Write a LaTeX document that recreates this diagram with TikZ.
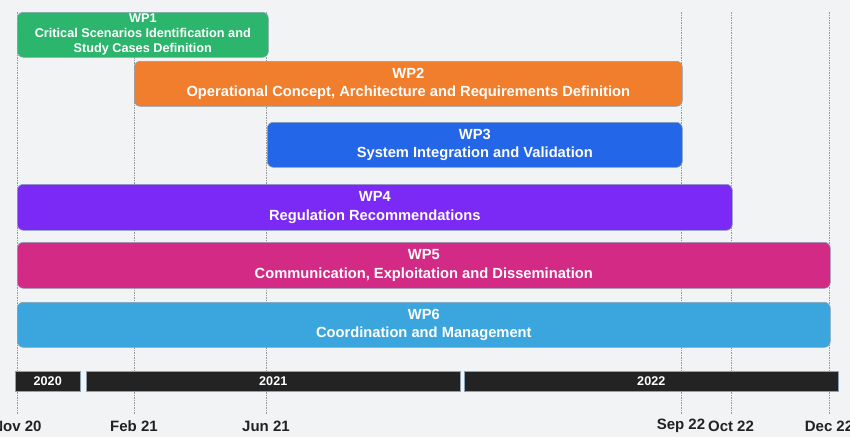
\documentclass[tikz,border=0pt]{standalone}
\usepackage{fontspec}
\setmainfont{Liberation Sans}
\definecolor{bgc}{HTML}{F2F3F5}
\definecolor{cwpa}{HTML}{2CB56C}
\definecolor{cwpb}{HTML}{F07E2C}
\definecolor{cwpc}{HTML}{2366E8}
\definecolor{cwpd}{HTML}{7B2AF6}
\definecolor{cwpe}{HTML}{D22A85}
\definecolor{cwpf}{HTML}{3BA6DD}
\definecolor{barc}{HTML}{232323}
\definecolor{edgec}{HTML}{8AA2B4}
\definecolor{gridc}{HTML}{9A9A9A}
\definecolor{datec}{HTML}{222222}
\tikzset{
  wpbox/.style={draw=edgec, line width=0.6pt, rounded corners=6pt, inner sep=0pt, anchor=north west,
    text=white, align=center, font=\bfseries\fontsize{14.7}{18.5}\selectfont},
  yearbar/.style={draw=edgec, line width=0.5pt, fill=barc, inner sep=0pt, anchor=north west,
    minimum height=20pt, text=white, font=\bfseries\fontsize{12.6}{14}\selectfont},
  datelbl/.style={text=datec, font=\bfseries\fontsize{15}{17}\selectfont, inner sep=0pt},
  gridline/.style={draw=gridc, line width=0.5pt, dash pattern=on 1.5pt off 1pt}
}
\begin{document}
\begin{tikzpicture}[x=1pt,y=-1pt]
\useasboundingbox (0,0) rectangle (850,437);
\fill[bgc] (0,0) rectangle (850,437);
% date labels and grid lines
\node[datelbl] (dnov) at (17,426) {Nov 20};
\node[datelbl] (dfeb) at (134,426) {Feb 21};
\node[datelbl] (djun) at (266,426) {Jun 21};
\node[datelbl] (dsep) at (681,426) {Sep 22};
\node[datelbl] (doct) at (731,426) {Oct 22};
\node[datelbl] (ddec) at (829,426) {Dec 22};
\coordinate (tnov) at (17,12);
\coordinate (tfeb) at (134,12);
\coordinate (tjun) at (266,12);
\coordinate (tsep) at (681,12);
\coordinate (toct) at (731,12);
\coordinate (tdec) at (829,12);
\draw[gridline] (tnov) -- (17,414);
\draw[gridline] (tfeb) -- (134,414);
\draw[gridline] (tjun) -- (266,414);
\draw[gridline] (tsep) -- (681,414);
\draw[gridline] (toct) -- (731,414);
\draw[gridline] (tdec) -- (829,414);
% work packages
\node[wpbox, fill=cwpa, minimum width=251pt, minimum height=45pt, font=\bfseries\fontsize{12.7}{15}\selectfont] (wp1) at (17,12) {WP1\\Critical Scenarios Identification and\\Study Cases Definition};
\node[wpbox, fill=cwpb, minimum width=548pt, minimum height=45pt] (wp2) at (134,61) {WP2\\Operational Concept, Architecture and Requirements Definition};
\node[wpbox, fill=cwpc, minimum width=415pt, minimum height=45pt] (wp3) at (267,122) {WP3\\System Integration and Validation};
\node[wpbox, fill=cwpd, minimum width=715pt, minimum height=46pt] (wp4) at (17,184) {WP4\\Regulation Recommendations};
\node[wpbox, fill=cwpe, minimum width=813pt, minimum height=46pt] (wp5) at (17,242) {WP5\\Communication, Exploitation and Dissemination};
\node[wpbox, fill=cwpf, minimum width=813pt, minimum height=45pt] (wp6) at (17,302) {WP6\\Coordination and Management};
% year bars
\node[yearbar, minimum width=65pt] (y2020) at (15,371) {2020};
\node[yearbar, minimum width=374pt] (y2021) at (86,371) {2021};
\node[yearbar, minimum width=374pt] (y2022) at (464,371) {2022};
\end{tikzpicture}
\end{document}
